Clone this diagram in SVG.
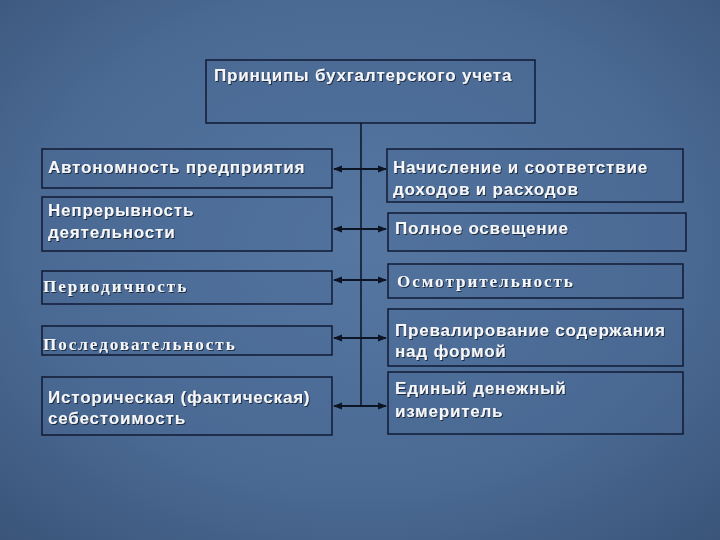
<svg xmlns="http://www.w3.org/2000/svg" width="720" height="540" viewBox="0 0 720 540">
<defs>
<radialGradient id="bg" cx="50%" cy="45%" r="75%">
<stop offset="0" stop-color="#5577a1"/>
<stop offset="0.6" stop-color="#4a6a94"/>
<stop offset="1" stop-color="#3a5478"/>
</radialGradient>
<filter id="sh" x="-5%" y="-30%" width="110%" height="160%">
<feDropShadow dx="1" dy="1" stdDeviation="0.6" flood-color="#0a1426" flood-opacity="0.8"/>
</filter>
<marker id="ah" viewBox="0 0 10 10" refX="9" refY="5" markerWidth="4.5" markerHeight="4.5" orient="auto-start-reverse">
<path d="M0,1 L10,5 L0,9 z" fill="#0d1424"/>
</marker>
</defs>
<style>
.box{fill:#4b6b95;fill-opacity:0.35;stroke:#101a33;stroke-width:1.5}
.t{font-family:"Liberation Sans",Arial,sans-serif;font-size:17px;font-weight:bold;letter-spacing:0.8px;fill:#f4f6fa;filter:url(#sh)}
.s{font-family:"Liberation Serif","Times New Roman",serif;font-size:17px;font-weight:bold;letter-spacing:2px;fill:#f4f6fa;filter:url(#sh)}
.c{stroke:#0d1424;stroke-width:2;fill:none}
.v{stroke:#0d1424;stroke-width:1.5;fill:none}
</style>
<rect width="720" height="540" fill="url(#bg)"/>

<g id="title">
<rect class="box" x="206" y="60" width="329" height="63"/>
<text class="t" x="214" y="81">Принципы бухгалтерского учета</text>
</g>

<g id="l1">
<rect class="box" x="42" y="149" width="290" height="39"/>
<text class="t" x="48" y="173">Автономность предприятия</text>
</g>
<g id="l2">
<rect class="box" x="42" y="197" width="290" height="54"/>
<text class="t" x="48" y="216">Непрерывность</text>
<text class="t" x="48" y="238">деятельности</text>
</g>
<g id="l3">
<rect class="box" x="42" y="271" width="290" height="33"/>
<text class="s" x="43" y="292">Периодичность</text>
</g>
<g id="l4">
<rect class="box" x="42" y="326" width="290" height="29"/>
<text class="s" x="43" y="350">Последовательность</text>
</g>
<g id="l5">
<rect class="box" x="42" y="377" width="290" height="58"/>
<text class="t" x="48" y="403">Историческая (фактическая)</text>
<text class="t" x="48" y="424">себестоимость</text>
</g>

<g id="r1">
<rect class="box" x="387" y="149" width="296" height="53"/>
<text class="t" x="393" y="173">Начисление и соответствие</text>
<text class="t" x="393" y="195">доходов и расходов</text>
</g>
<g id="r2">
<rect class="box" x="388" y="213" width="298" height="38"/>
<text class="t" x="395" y="234">Полное освещение</text>
</g>
<g id="r3">
<rect class="box" x="388" y="264" width="295" height="34"/>
<text class="s" x="397" y="287">Осмотрительность</text>
</g>
<g id="r4">
<rect class="box" x="388" y="309" width="295" height="57"/>
<text class="t" x="395" y="336">Превалирование содержания</text>
<text class="t" x="395" y="357">над формой</text>
</g>
<g id="r5">
<rect class="box" x="388" y="372" width="295" height="62"/>
<text class="t" x="395" y="394">Единый денежный</text>
<text class="t" x="395" y="417">измеритель</text>
</g>

<g id="connectors">
<line class="v" x1="361" y1="123" x2="361" y2="406"/>
<line class="c" x1="334" y1="169" x2="386" y2="169" marker-start="url(#ah)" marker-end="url(#ah)"/>
<line class="c" x1="334" y1="229" x2="386" y2="229" marker-start="url(#ah)" marker-end="url(#ah)"/>
<line class="c" x1="334" y1="280" x2="386" y2="280" marker-start="url(#ah)" marker-end="url(#ah)"/>
<line class="c" x1="334" y1="338" x2="386" y2="338" marker-start="url(#ah)" marker-end="url(#ah)"/>
<line class="c" x1="334" y1="406" x2="386" y2="406" marker-start="url(#ah)" marker-end="url(#ah)"/>
</g>
</svg>
